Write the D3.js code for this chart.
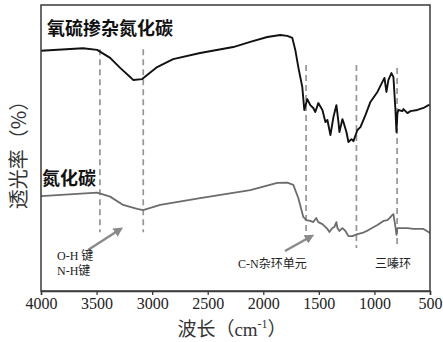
<!DOCTYPE html>
<html>
<head>
<meta charset="utf-8">
<script src="https://cdn.jsdelivr.net/npm/d3@7"></script>
<style>
  html, body { margin: 0; padding: 0; background: #fff; }
  svg { display: block; }
</style>
</head>
<body>
<svg id="chart" width="443" height="342"></svg>
<script>
// FTIR spectra: wavenumber (cm-1) and transmittance (%, arbitrary offset)
const sulfurOxygenWave = [4000, 3622, 3495, 3378, 3288, 3198, 3171, 3090, 3045, 2955, 2811, 2568, 2270, 2117, 1964, 1847, 1784, 1739, 1712, 1685, 1649, 1631, 1604, 1577, 1550, 1532, 1505, 1468, 1441, 1423, 1396, 1369, 1342, 1324, 1315, 1288, 1279, 1252, 1234, 1207, 1189, 1153, 1126, 1081, 1036, 973, 928, 910, 892, 874, 847, 829, 811, 802, 793, 784, 748, 739, 703, 676, 613, 559, 514, 500];
const sulfurOxygenT = [84.0, 84.9, 84.3, 81.5, 78.0, 74.8, 73.8, 74.1, 75.5, 78.3, 81.1, 83.2, 85.3, 87.1, 88.8, 89.5, 89.2, 88.5, 84.3, 78.3, 71.3, 63.3, 67.1, 65.0, 64.0, 62.6, 65.7, 63.3, 59.1, 59.8, 54.5, 60.8, 65.0, 59.1, 55.6, 60.1, 59.1, 55.6, 52.1, 53.1, 52.4, 56.3, 57.3, 61.5, 66.1, 69.6, 73.1, 74.5, 69.6, 73.8, 76.2, 74.8, 63.3, 55.6, 62.2, 63.3, 62.9, 63.6, 62.2, 62.9, 63.3, 64.0, 65.0, 65.0];

const carbonNitrideWave = [4000, 3495, 3378, 3261, 3135, 3081, 2928, 2568, 2117, 1874, 1784, 1730, 1685, 1640, 1613, 1577, 1550, 1523, 1505, 1468, 1423, 1405, 1378, 1360, 1342, 1333, 1315, 1288, 1261, 1234, 1198, 1153, 1108, 1054, 973, 919, 883, 865, 838, 829, 811, 802, 793, 748, 703, 649, 559, 514, 500];
const carbonNitrideT = [33.2, 34.4, 33.0, 30.1, 28.7, 28.3, 30.1, 32.5, 35.3, 37.8, 37.9, 37.1, 32.5, 25.9, 24.8, 24.5, 24.1, 25.5, 24.1, 23.4, 21.7, 20.6, 22.0, 22.4, 24.1, 22.0, 21.0, 22.0, 21.0, 19.2, 19.2, 19.9, 20.3, 21.3, 23.1, 24.5, 24.8, 25.5, 26.6, 26.9, 22.4, 19.6, 22.0, 22.0, 22.0, 21.7, 21.7, 20.6, 20.3];

// Characteristic band positions (cm-1) and where each guide line spans
const bandWave = [3470, 3080, 1615, 1162, 796];
const bandTop = [84.5, 84.5, 79, 79, 78];
const bandBottom = [20.5, 20.5, 19, 15, 15];

const xTicks = [4000, 3500, 3000, 2500, 2000, 1500, 1000, 500];
const seriesNames = ["氧硫掺杂氮化碳", "氮化碳"];
const noteTexts = ["O-H 键", "N-H键", "C-N杂环单元", "三嗪环"];

const svg = d3.select("#chart");
const plotLeft = 41, plotRight = 430, plotTop = 5, plotBottom = 291;

const x = d3.scaleLinear().domain([4000, 500]).range([plotLeft, plotRight]);
const y = d3.scaleLinear().domain([0, 100]).range([plotBottom, plotTop]);

const serif = "'Liberation Serif', 'Times New Roman', 'Noto Sans CJK SC', serif";
const cjk = "'Noto Sans CJK SC', sans-serif";

// guide lines
svg.append("g").selectAll("line").data(bandWave).join("line")
  .attr("x1", d => x(d)).attr("x2", d => x(d))
  .attr("y1", (d, i) => y(bandTop[i])).attr("y2", (d, i) => y(bandBottom[i]))
  .attr("stroke", "#959595").attr("stroke-width", 1.7)
  .attr("stroke-dasharray", "6,4");

const line = d3.line().x(d => x(d[0])).y(d => y(d[1])).curve(d3.curveLinear);

svg.append("path")
  .datum(d3.zip(carbonNitrideWave, carbonNitrideT))
  .attr("d", line).attr("fill", "none")
  .attr("stroke", "#6c6c6c").attr("stroke-width", 1.8).attr("stroke-linejoin", "round");

svg.append("path")
  .datum(d3.zip(sulfurOxygenWave, sulfurOxygenT))
  .attr("d", line).attr("fill", "none")
  .attr("stroke", "#111").attr("stroke-width", 1.9).attr("stroke-linejoin", "round");

// frame
svg.append("rect").attr("x", plotLeft).attr("y", plotTop)
  .attr("width", plotRight - plotLeft).attr("height", plotBottom - plotTop)
  .attr("fill", "none").attr("stroke", "#3a3a3a").attr("stroke-width", 1.5);

// x axis
const xAxis = svg.append("g").attr("transform", `translate(0,${plotBottom})`)
  .call(d3.axisBottom(x).tickValues(xTicks).tickSize(4).tickPadding(3).tickFormat(d3.format("d")));
xAxis.select(".domain").attr("stroke", "#3a3a3a").attr("stroke-width", 1.5);
xAxis.selectAll(".tick line").attr("stroke", "#3a3a3a").attr("stroke-width", 1.3);
xAxis.selectAll(".tick text").attr("font-family", serif).attr("font-size", 16).attr("fill", "#222");

// axis titles
const xt = svg.append("text").attr("x", 232).attr("y", 336)
  .attr("text-anchor", "middle").attr("fill", "#333").attr("font-size", 19);
xt.append("tspan").attr("font-family", cjk).text("波长（");
xt.append("tspan").attr("font-family", serif).text("cm");
xt.append("tspan").attr("font-family", serif).attr("font-size", 12).attr("dy", -8).text("-1");
xt.append("tspan").attr("font-family", cjk).attr("dy", 8).text("）");

svg.append("text")
  .attr("transform", "translate(17,150) rotate(-90)")
  .attr("text-anchor", "middle").attr("dominant-baseline", "central")
  .attr("font-family", cjk).attr("font-size", 20).attr("fill", "#333")
  .text("透光率（%）");

// series labels
svg.append("text").attr("x", 47).attr("y", 35)
  .attr("font-family", cjk).attr("font-weight", "bold").attr("font-size", 18).attr("fill", "#111")
  .text(seriesNames[0]);
svg.append("text").attr("x", 42).attr("y", 185)
  .attr("font-family", cjk).attr("font-weight", "bold").attr("font-size", 18).attr("fill", "#111")
  .text(seriesNames[1]);

// arrows
const defs = svg.append("defs");
defs.append("marker").attr("id", "ah").attr("viewBox", "0 0 10 10")
  .attr("refX", 5).attr("refY", 5).attr("markerWidth", 4).attr("markerHeight", 4)
  .attr("markerUnits", "strokeWidth").attr("orient", "auto")
  .append("path").attr("d", "M0,0 L10,5 L0,10 Z").attr("fill", "#8a8a8a");

const arrows = [[88, 250, 119, 230], [285, 251, 310, 237]];
svg.append("g").selectAll("line").data(arrows).join("line")
  .attr("x1", d => d[0]).attr("y1", d => d[1]).attr("x2", d => d[2]).attr("y2", d => d[3])
  .attr("stroke", "#8a8a8a").attr("stroke-width", 2.4).attr("marker-end", "url(#ah)");

// annotations
const note = (t, xx, yy) => svg.append("text").attr("x", xx).attr("y", yy)
  .attr("font-family", serif).attr("font-size", 12).attr("fill", "#222").text(t);
note(noteTexts[0], 57, 260);
note(noteTexts[1], 57, 275);
note(noteTexts[2], 238, 268);
note(noteTexts[3], 375, 268);
</script>
</body>
</html>
